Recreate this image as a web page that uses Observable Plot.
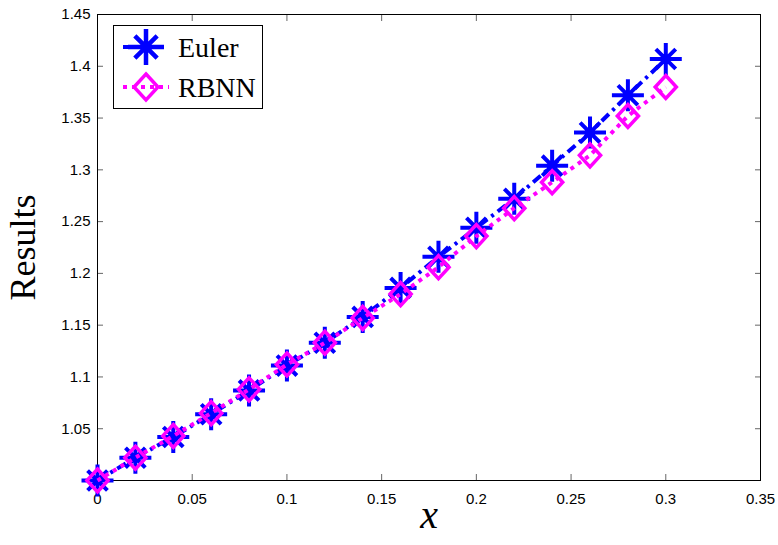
<!DOCTYPE html>
<html><head><meta charset="utf-8">
<script src="https://cdn.jsdelivr.net/npm/d3@7"></script>
<script src="https://cdn.jsdelivr.net/npm/@observablehq/plot@0.6"></script>
<style>
body{margin:0;background:#fff}
#wrap{position:relative;width:778px;height:545px}
#legend{position:absolute;left:0;top:0;pointer-events:none}
</style>
</head><body><div id="wrap"></div>
<script>
// ---- data ----
const xValues = [0, 0.02, 0.04, 0.06, 0.08, 0.10, 0.12, 0.14, 0.16, 0.18, 0.20, 0.22, 0.24, 0.26, 0.28, 0.30];
const eulerValues = [1.000, 1.022, 1.042, 1.064, 1.087, 1.111, 1.133, 1.158, 1.186, 1.216, 1.244, 1.272, 1.304, 1.336, 1.372, 1.407];
const rbnnValues  = [1.000, 1.022, 1.043, 1.065, 1.088, 1.112, 1.133, 1.157, 1.180, 1.206, 1.236, 1.263, 1.288, 1.314, 1.352, 1.380];
const seriesNames = ["Euler", "RBNN"];
const seriesColors = ["#0000ff", "#ff00ff"];
const xTicks = [0, 0.05, 0.10, 0.15, 0.20, 0.25, 0.30, 0.35];
const xTickLabels = ["0", "0.05", "0.1", "0.15", "0.2", "0.25", "0.3", "0.35"];
const yTicks = [1.05, 1.10, 1.15, 1.20, 1.25, 1.30, 1.35, 1.40, 1.45];
const yTickLabels = ["1.05", "1.1", "1.15", "1.2", "1.25", "1.3", "1.35", "1.4", "1.45"];
const xLabel = "x";
const yLabel = "Results";

// ---- symbols ----
const starSymbol = {
  draw(ctx, size) {
    const r = Math.sqrt(size / Math.PI), d = r * 0.62;
    ctx.moveTo(-r, 0); ctx.lineTo(r, 0);
    ctx.moveTo(0, -r); ctx.lineTo(0, r);
    ctx.moveTo(-d, -d); ctx.lineTo(d, d);
    ctx.moveTo(-d, d); ctx.lineTo(d, -d);
  }
};
const diamondSymbol = {
  draw(ctx, size) {
    const r = Math.sqrt(size / Math.PI), w = r * 0.92;
    ctx.moveTo(0, -r); ctx.lineTo(w, 0); ctx.lineTo(0, r); ctx.lineTo(-w, 0); ctx.closePath();
  }
};

const euler = xValues.map((x, i) => ({x, y: eulerValues[i]}));
const rbnn = xValues.map((x, i) => ({x, y: rbnnValues[i]}));

const tickColor = "#666";
const serif = "'Liberation Serif', 'Times New Roman', serif";
const chart = Plot.plot({
  width: 778, height: 545,
  marginLeft: 97, marginRight: 18, marginTop: 14, marginBottom: 65,
  style: {fontFamily: "'Liberation Sans', Arial, sans-serif", fontSize: "15px", color: "black", background: "white"},
  x: {domain: [0, 0.35]},
  y: {domain: [1, 1.45]},
  marks: [
    Plot.axisX(xTicks, {anchor: "bottom", tickSize: -6, tickPadding: 19, stroke: tickColor, fill: "black", fontSize: 15, tickFormat: (d, i) => xTickLabels[i], label: null}),
    Plot.axisX(xTicks, {anchor: "top", tickSize: -6, stroke: tickColor, tickFormat: () => "", label: null}),
    Plot.axisY(yTicks, {anchor: "left", tickSize: -6, tickPadding: 13, stroke: tickColor, fill: "black", fontSize: 15, tickFormat: (d, i) => yTickLabels[i], label: null}),
    Plot.axisY(yTicks, {anchor: "right", tickSize: -6, stroke: tickColor, tickFormat: () => "", label: null}),
    Plot.frame({stroke: "black", strokeWidth: 1}),
    Plot.line(euler, {x: "x", y: "y", stroke: seriesColors[0], strokeWidth: 4, strokeDasharray: "10,5,3,5", strokeLinecap: "butt"}),
    Plot.dot(euler, {x: "x", y: "y", symbol: starSymbol, r: 16, stroke: seriesColors[0], strokeWidth: 4, fill: "none"}),
    Plot.line(rbnn, {x: "x", y: "y", stroke: seriesColors[1], strokeWidth: 4, strokeDasharray: "4,5", strokeLinecap: "butt"}),
    Plot.dot(rbnn, {x: "x", y: "y", symbol: diamondSymbol, r: 11.5, stroke: seriesColors[1], strokeWidth: 3.5, fill: "none"}),
    Plot.text([yLabel], {frameAnchor: "left", textAnchor: "middle", dx: -74, rotate: -90, fontSize: 36, fontFamily: serif, fill: "black"}),
    Plot.text([xLabel], {frameAnchor: "bottom", textAnchor: "middle", dy: 47, fontSize: 40, fontStyle: "italic", fontFamily: serif, fill: "black"})
  ]
});
const wrap = document.getElementById("wrap");
wrap.appendChild(chart);

// ---- legend overlay ----
const lg = d3.create("svg").attr("id", "legend").attr("width", 778).attr("height", 545);
lg.append("rect").attr("x", 113.5).attr("y", 25.5).attr("width", 149).attr("height", 83)
  .attr("fill", "white").attr("stroke", "black").attr("stroke-width", 1);
const rows = [
  {name: seriesNames[0], color: seriesColors[0], dash: "10,5,3,5", sym: starSymbol, r: 18, sw: 4.5, cy: 47},
  {name: seriesNames[1], color: seriesColors[1], dash: "4,5", sym: diamondSymbol, r: 13, sw: 3.5, cy: 87}
];
for (const row of rows) {
  lg.append("line").attr("x1", 123).attr("x2", 169).attr("y1", row.cy).attr("y2", row.cy)
    .attr("stroke", row.color).attr("stroke-width", 4).attr("stroke-dasharray", row.dash);
  lg.append("path").attr("transform", `translate(146,${row.cy})`)
    .attr("d", d3.symbol(row.sym, row.r * row.r * Math.PI)())
    .attr("fill", "none").attr("stroke", row.color).attr("stroke-width", row.sw);
  lg.append("text").attr("x", 178).attr("y", row.cy).attr("dy", "0.35em")
    .attr("font-family", serif).attr("font-size", 28)
    .attr("fill", "black").text(row.name);
}
wrap.appendChild(lg.node());
</script>
</body></html>
